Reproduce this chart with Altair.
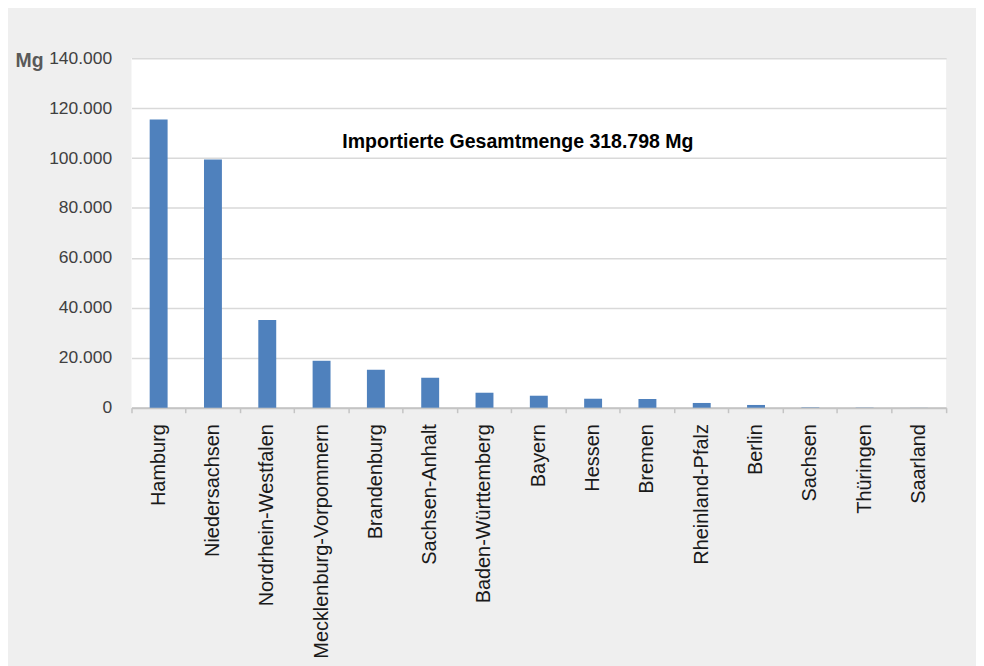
import altair as alt
import pandas as pd

states = ["Hamburg", "Niedersachsen", "Nordrhein-Westfalen", "Mecklenburg-Vorpommern",
          "Brandenburg", "Sachsen-Anhalt", "Baden-Württemberg", "Bayern", "Hessen",
          "Bremen", "Rheinland-Pfalz", "Berlin", "Sachsen", "Thüringen", "Saarland"]
values = [115400, 99400, 35100, 18800, 15200, 12000, 6000, 4800, 3600,
          3500, 1900, 1100, 150, 80, 30]
y_ticks = [0, 20000, 40000, 60000, 80000, 100000, 120000, 140000]
annotation = ["Importierte Gesamtmenge 318.798 Mg"]

df = pd.DataFrame({"Bundesland": states, "Menge": values})
ann = pd.DataFrame({"t": annotation})

W, H = 818, 351

font = "Liberation Sans, Arial"

bars = alt.Chart(df).mark_bar(color="#4f81bd", width=alt.RelativeBandSize(0.33)).encode(
    x=alt.X("Bundesland:N", sort=states, title=None,
            scale=alt.Scale(paddingInner=0, paddingOuter=0),
            axis=alt.Axis(labelAngle=-90, labelFont=font, labelFontSize=20,
                          labelColor="#1a1a1a", labelPadding=11, labelLimit=0,
                          bandPosition=1, tickExtra=True,
                          tickSize=5, tickColor="#c4c4c4", tickWidth=1.5,
                          domainColor="#c4c4c4", domainWidth=2, grid=False)),
    y=alt.Y("Menge:Q", title="Mg",
            scale=alt.Scale(domain=[0, 140000], nice=False),
            axis=alt.Axis(values=y_ticks,
                          labelExpr="replace(format(datum.value, ',d'), ',', '.')",
                          labelFont=font, labelFontSize=17.5, labelColor="#404040",
                          labelPadding=20, ticks=False, domain=False,
                          gridColor="#d9d9d9", gridWidth=1.5,
                          titleAngle=0, titleX=-117, titleY=8, titleAlign="left",
                          titleBaseline="alphabetic", titleFont=font,
                          titleFontSize=19.5, titleFontWeight="bold", titleColor="#595959")),
)

text = alt.Chart(ann).mark_text(
    font=font, fontSize=19.6, fontWeight="bold", color="#000000",
    align="center", baseline="alphabetic",
).encode(
    text="t:N",
    x=alt.value(388),
    y=alt.value(90),
)

chart = alt.layer(bars, text).properties(
    width=W, height=H,
    padding={"left": 124, "top": 49, "right": 30, "bottom": 258},
    autosize=alt.AutoSizeParams(type="none"),
    background="#efefef",
).configure_view(fill="white", stroke=None)

chart.save("out.html", embed_options={"renderer": "svg", "actions": False})
